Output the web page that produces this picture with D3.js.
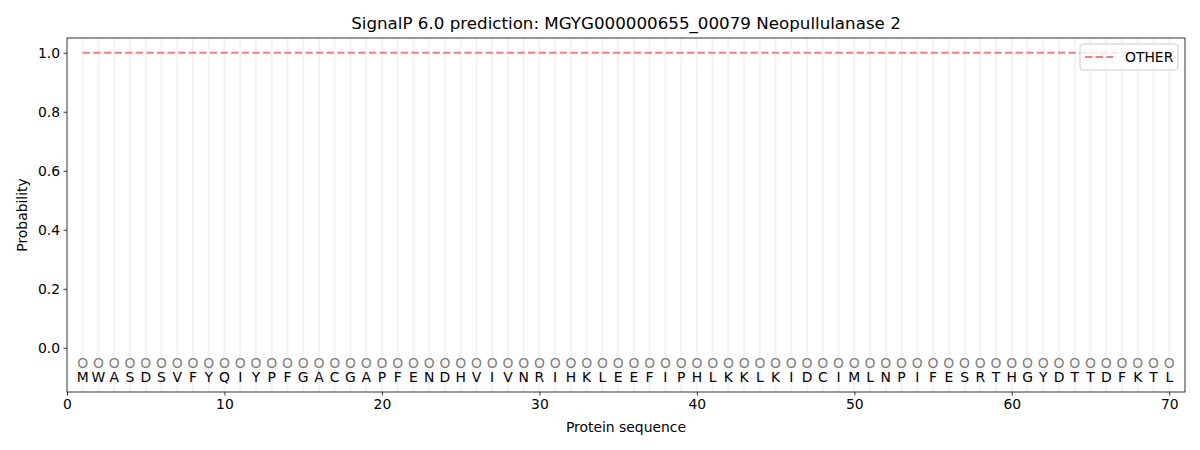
<!DOCTYPE html>
<html>
<head>
<meta charset="utf-8">
<script src="https://cdn.jsdelivr.net/npm/d3@7"></script>
<style>
  body { margin: 0; background: #fff; }
  svg { font-family: "DejaVu Sans", sans-serif; }
</style>
</head>
<body>
<svg id="chart" width="1200" height="450"></svg>
<script>
const title = "SignalP 6.0 prediction: MGYG000000655_00079 Neopullulanase 2";
const sequence = "MWASDSVFYQIYPFGACGAPFENDHVIVNRIHKLEEFIPHLKKLKIDCIMLNPIFESRTHGYDTTDFKTL".split("");
const positions = sequence.map((d, i) => i + 1);
const predictedLabels = sequence.map(() => "O");
const otherProb = sequence.map(() => 1.0);
const xTicks = [0, 10, 20, 30, 40, 50, 60, 70];
const yTicks = [0.0, 0.2, 0.4, 0.6, 0.8, 1.0];
const seriesName = "OTHER";

const svg = d3.select("#chart");
const m = { left: 67, right: 15, top: 38, bottom: 58 };
const W = 1200, H = 450;
const x = d3.scaleLinear().domain([0, 71]).range([m.left, W - m.right]);
const y = d3.scaleLinear().domain([-0.15, 1.05]).range([H - m.bottom, m.top]);

// vertical light grid lines at each residue
svg.append("g").selectAll("line").data(positions).join("line")
  .attr("x1", d => x(d)).attr("x2", d => x(d))
  .attr("y1", y(1.05)).attr("y2", y(-0.15))
  .attr("stroke", "#000").attr("stroke-opacity", 0.05).attr("stroke-width", 2);

// OTHER probability line
const line = d3.line().x((d, i) => x(positions[i])).y(d => y(d));
svg.append("path").datum(otherProb)
  .attr("d", line).attr("fill", "none")
  .attr("stroke", "#f08080").attr("stroke-width", 2)
  .attr("stroke-dasharray", "7.4,3.2");

// predicted labels
svg.append("g").selectAll("text").data(predictedLabels).join("text")
  .attr("x", (d, i) => x(positions[i])).attr("y", y(-0.05))
  .attr("text-anchor", "middle").attr("dominant-baseline", "central")
  .attr("font-size", 13.9).attr("fill", "#808080").text(d => d);

// sequence letters
svg.append("g").selectAll("text").data(sequence).join("text")
  .attr("x", (d, i) => x(positions[i])).attr("y", y(-0.1))
  .attr("text-anchor", "middle").attr("dominant-baseline", "central")
  .attr("font-size", 13.9).attr("fill", "#000").text(d => d);

// axes
const xAxis = d3.axisBottom(x).tickValues(xTicks).tickFormat(d3.format("d")).tickSizeOuter(0).tickSize(3.5).tickPadding(3.5);
const yAxis = d3.axisLeft(y).tickValues(yTicks).tickFormat(d3.format(".1f")).tickSizeOuter(0).tickSize(3.5).tickPadding(3.5);
const gx = svg.append("g").attr("transform", `translate(0,${H - m.bottom})`).call(xAxis);
const gy = svg.append("g").attr("transform", `translate(${m.left},0)`).call(yAxis);
[gx, gy].forEach(g => {
  g.selectAll("text").attr("font-size", 13.9).attr("font-family", "DejaVu Sans").attr("fill", "#000");
  g.select(".domain").remove();
  g.selectAll(".tick line").attr("stroke", "#000").attr("stroke-width", 0.8);
});

// frame
svg.append("rect").attr("x", m.left).attr("y", m.top)
  .attr("width", W - m.right - m.left).attr("height", H - m.bottom - m.top)
  .attr("fill", "none").attr("stroke", "#000").attr("stroke-width", 0.8);

// titles
svg.append("text").attr("x", (m.left + W - m.right) / 2).attr("y", 29)
  .attr("text-anchor", "middle").attr("font-size", 16.7).text(title);
svg.append("text").attr("x", (m.left + W - m.right) / 2).attr("y", 432)
  .attr("text-anchor", "middle").attr("font-size", 13.9).text("Protein sequence");
svg.append("text").attr("transform", `translate(27,${(m.top + H - m.bottom) / 2}) rotate(-90)`)
  .attr("text-anchor", "middle").attr("font-size", 13.9).text("Probability");

// legend
const lg = svg.append("g").attr("transform", "translate(1080,44)");
lg.append("rect").attr("width", 98).attr("height", 26).attr("rx", 3)
  .attr("fill", "#fff").attr("fill-opacity", 0.8).attr("stroke", "#ccc").attr("stroke-width", 1);
lg.append("line").attr("x1", 5).attr("x2", 33).attr("y1", 13).attr("y2", 13)
  .attr("stroke", "#f08080").attr("stroke-width", 2).attr("stroke-dasharray", "7.4,3.2");
lg.append("text").attr("x", 45).attr("y", 13).attr("dominant-baseline", "central")
  .attr("font-size", 13.9).text(seriesName);
</script>
</body>
</html>
